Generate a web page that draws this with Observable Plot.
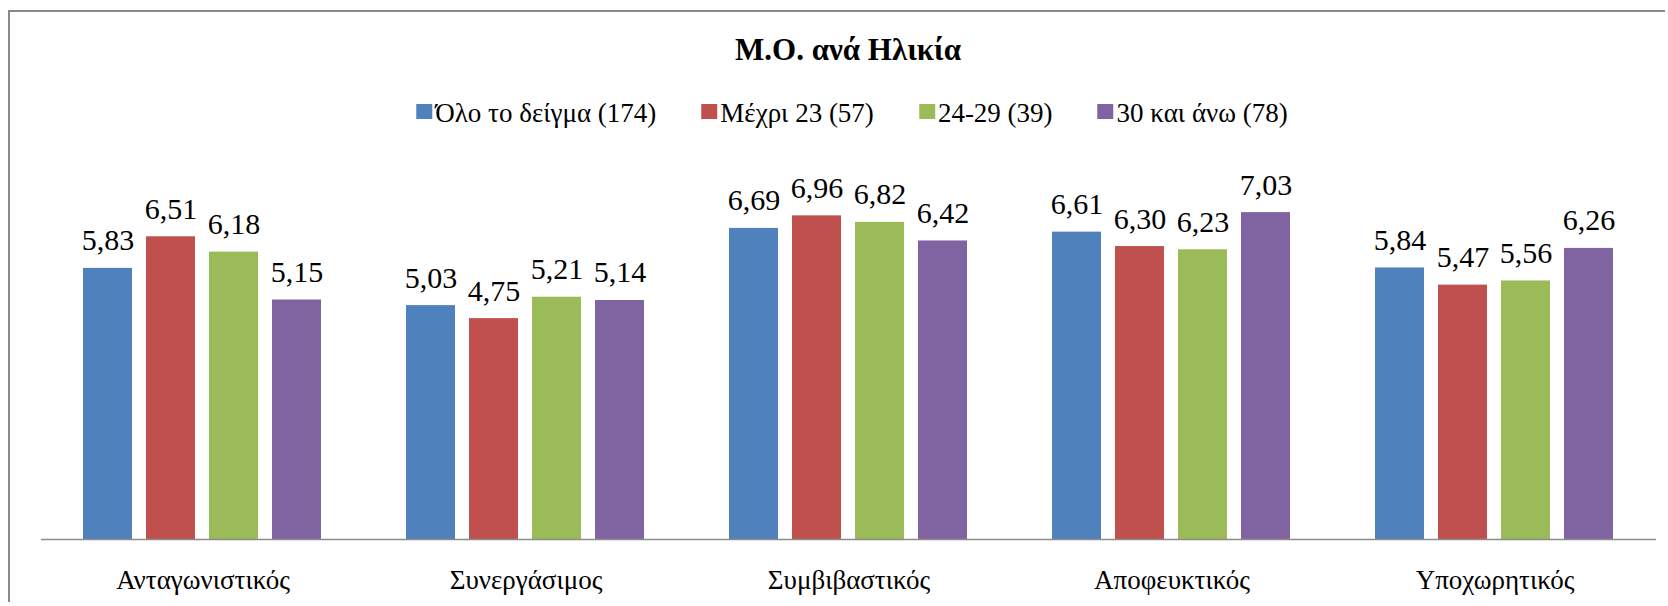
<!DOCTYPE html>
<html>
<head>
<meta charset="utf-8">
<script src="https://cdn.jsdelivr.net/npm/d3@7"></script>
<script src="https://cdn.jsdelivr.net/npm/@observablehq/plot@0.6"></script>
</head>
<body style="margin:0;padding:0;background:#fff;color:#000;font-family:'Liberation Serif'">
<div id="frame" style="position:absolute;left:8px;top:10px;width:1655px;height:590px;border-top:2px solid #8a8a8a;border-left:2px solid #8a8a8a;"></div>
<div id="title" style="position:absolute;left:848px;top:32px;transform:translateX(-50%);font-size:31px;font-weight:bold;white-space:nowrap;font-family:'Liberation Serif'">Μ.Ο. ανά Ηλικία</div>
<div id="legend" style="position:absolute;left:852px;top:98px;transform:translateX(-50%);display:flex;align-items:center;gap:45px;font-size:27px;white-space:nowrap;font-family:'Liberation Serif'"></div>
<div id="chart" style="position:absolute;left:0;top:150px;font-family:'Liberation Serif'"></div>
<script>
const categories = ["Ανταγωνιστικός", "Συνεργάσιμος", "Συμβιβαστικός", "Αποφευκτικός", "Υποχωρητικός"];
const series = ["Όλο το δείγμα (174)", "Μέχρι 23 (57)", "24-29 (39)", "30 και άνω (78)"];
const colors = ["#4F81BD", "#C0504D", "#9BBB59", "#8064A2"];
const allSample = [5.83, 5.03, 6.69, 6.61, 5.84];
const upTo23 = [6.51, 4.75, 6.96, 6.30, 5.47];
const age24to29 = [6.18, 5.21, 6.82, 6.23, 5.56];
const age30plus = [5.15, 5.14, 6.42, 7.03, 6.26];

const valuesBySeries = [allSample, upTo23, age24to29, age30plus];
const data = [];
categories.forEach((c, i) => {
  series.forEach((s, j) => {
    data.push({category: c, series: s, value: valuesBySeries[j][i]});
  });
});

const legend = document.getElementById("legend");
series.forEach((s, j) => {
  const item = document.createElement("div");
  item.style.display = "flex";
  item.style.alignItems = "center";
  const sw = document.createElement("div");
  sw.style.width = "16px";
  sw.style.height = "15px";
  sw.style.marginRight = "3px";
  sw.style.marginTop = "-4px";
  sw.style.background = colors[j];
  const t = document.createElement("span");
  t.style.fontFamily = "'Liberation Serif'";
  t.textContent = s;
  item.appendChild(sw);
  item.appendChild(t);
  legend.appendChild(item);
});

const fmt = v => v.toFixed(2).replace(".", ",");

const chart = Plot.plot({
  width: 1668,
  height: 456,
  marginLeft: 39,
  marginRight: 11,
  marginTop: 17,
  marginBottom: 67,
  fx: {domain: categories, padding: 0, label: null, axis: null},
  x: {domain: series, paddingInner: 0.22, paddingOuter: 0.64, axis: null},
  y: {domain: [0, 8], axis: null},
  color: {domain: series, range: colors},
  marks: [
    Plot.barY(data, {fx: "category", x: "series", y: "value", fill: "series"}),
    Plot.text(data, {fx: "category", x: "series", y: "value", text: d => fmt(d.value), lineAnchor: "bottom", dy: -18, fontSize: 30, fill: "#000", fontFamily: "Liberation Serif"}),
    Plot.ruleY([0], {stroke: "#8c8c8c", strokeWidth: 1.5}),
    Plot.axisFx({anchor: "bottom", tickSize: 0, tickPadding: 30, fontSize: 27, label: null, fill: "#000", fontFamily: "Liberation Serif"})
  ]
});
chart.style.overflow = "visible";
document.getElementById("chart").appendChild(chart);
</script>
</body>
</html>
